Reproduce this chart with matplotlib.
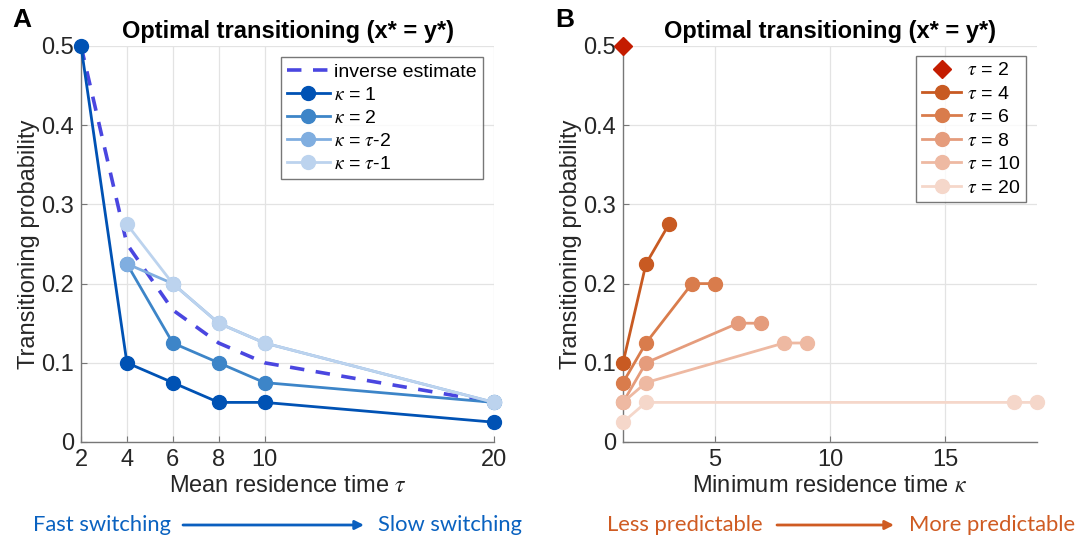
import matplotlib
matplotlib.use("Agg")
import matplotlib.pyplot as plt
from matplotlib.lines import Line2D

plt.rcParams['font.family'] = ['Liberation Sans', 'DejaVu Sans']
plt.rcParams['mathtext.fontset'] = 'stix'

# ---------------- Data ----------------
tau = [2, 4, 6, 8, 10, 20]
inverse_estimate = [0.5, 0.25, 0.1667, 0.125, 0.1, 0.05]
kappa1 = [0.5, 0.1, 0.075, 0.05, 0.05, 0.025]
tau_k2 = [4, 6, 8, 10, 20]
kappa2 = [0.225, 0.125, 0.1, 0.075, 0.05]
kappa_tm2 = [0.225, 0.2, 0.15, 0.125, 0.05]
kappa_tm1 = [0.275, 0.2, 0.15, 0.125, 0.05]

# Panel B: per tau, kappa values and probabilities
b_tau2_k = [1]
b_tau2_p = [0.5]
b_tau4_k = [1, 2, 3]
b_tau4_p = [0.1, 0.225, 0.275]
b_tau6_k = [1, 2, 4, 5]
b_tau6_p = [0.075, 0.125, 0.2, 0.2]
b_tau8_k = [1, 2, 6, 7]
b_tau8_p = [0.05, 0.1, 0.15, 0.15]
b_tau10_k = [1, 2, 8, 9]
b_tau10_p = [0.05, 0.075, 0.125, 0.125]
b_tau20_k = [1, 2, 18, 19]
b_tau20_p = [0.025, 0.05, 0.05, 0.05]

blue_cols = ['#0052b4', '#3d85c8', '#80aee0', '#bcd3ee']
inv_col = '#4a46e0'
orange_cols = ['#c41c00', '#c85a22', '#d97c4c', '#e59c7c', '#eeb9a2', '#f5d7ca']

W, H = 1078, 538
fig = plt.figure(figsize=(W / 100, H / 100), dpi=100)

axA = fig.add_axes([81 / W, (H - 442) / H, 413 / W, 396 / H])
axB = fig.add_axes([623 / W, (H - 442) / H, 414 / W, 396 / H])

TICK_FS = 17
LAB_FS = 17


def style(ax):
    for s in ['top', 'right']:
        ax.spines[s].set_visible(False)
    for s in ['left', 'bottom']:
        ax.spines[s].set_color('#777777')
        ax.spines[s].set_linewidth(1.0)
    ax.grid(True, color='#e3e3e3', linewidth=0.9)
    ax.set_axisbelow(True)
    ax.tick_params(direction='in', length=4, color='#777777', labelsize=TICK_FS,
                   labelcolor='#262626', pad=5)
    ax.set_ylim(0, 0.5)
    ax.set_yticks([0, 0.1, 0.2, 0.3, 0.4, 0.5])
    ax.set_yticklabels(['0', '0.1', '0.2', '0.3', '0.4', '0.5'])
    ax.set_ylabel('Transitioning probability', fontsize=LAB_FS, color='#262626', labelpad=1)


lw = 2.0
ms = 10

# ---------------- Panel A ----------------
style(axA)
axA.plot(tau, inverse_estimate, '--', color=inv_col, lw=2.6, dashes=(4, 3.2),
         label='inverse estimate', zorder=2)
axA.plot(tau, kappa1, '-o', color=blue_cols[0], lw=lw, ms=ms,
         label=r'$\kappa$ = 1', zorder=3)
axA.plot(tau_k2, kappa2, '-o', color=blue_cols[1], lw=lw, ms=ms,
         label=r'$\kappa$ = 2', zorder=4)
axA.plot(tau_k2, kappa_tm2, '-o', color=blue_cols[2], lw=lw, ms=ms,
         label=r'$\kappa$ = $\tau$-2', zorder=5)
axA.plot(tau_k2, kappa_tm1, '-o', color=blue_cols[3], lw=lw, ms=ms,
         label=r'$\kappa$ = $\tau$-1', zorder=6)
axA.set_xlim(2, 20)
axA.set_xticks(tau)
axA.set_xlabel(r'Mean residence time $\tau$', fontsize=LAB_FS, color='#262626', labelpad=3)
axA.set_title('Optimal transitioning (x* = y*)', fontsize=17, fontweight='bold', pad=6)
for c in axA.get_children():
    if isinstance(c, Line2D):
        c.set_clip_on(False)

legA = axA.legend(loc='upper right',
                  bbox_to_anchor=(0.973, 0.972), fontsize=14, frameon=True, fancybox=False,
                  edgecolor='#555555', handlelength=2.2, handletextpad=0.25,
                  labelspacing=0.28, borderpad=0.3, borderaxespad=0.0)
legA.get_frame().set_linewidth(1.0)
legA.set_zorder(20)

# ---------------- Panel B ----------------
style(axB)
b_series = [(b_tau4_k, b_tau4_p, r'$\tau$ = 4'), (b_tau6_k, b_tau6_p, r'$\tau$ = 6'),
            (b_tau8_k, b_tau8_p, r'$\tau$ = 8'), (b_tau10_k, b_tau10_p, r'$\tau$ = 10'),
            (b_tau20_k, b_tau20_p, r'$\tau$ = 20')]
hb = []
hb.append(axB.plot(b_tau2_k, b_tau2_p, 'D', color=orange_cols[0], ms=9, clip_on=False,
                   label=r'$\tau$ = 2', zorder=3)[0])
for i, (k, p, lab) in enumerate(b_series):
    hb.append(axB.plot(k, p, '-o', color=orange_cols[i + 1], lw=lw, ms=ms, clip_on=False,
                       label=lab, zorder=4 + i)[0])
axB.set_xlim(1, 19)
axB.set_xticks([5, 10, 15])
axB.set_xlabel(r'Minimum residence time $\kappa$', fontsize=LAB_FS, color='#262626', labelpad=3)
axB.set_title('Optimal transitioning (x* = y*)', fontsize=17, fontweight='bold', pad=6)
legB = axB.legend(handles=hb, loc='upper right', bbox_to_anchor=(0.973, 0.975),
                  fontsize=14, frameon=True, fancybox=False, edgecolor='#555555',
                  handlelength=2.0, handletextpad=0.3, labelspacing=0.3,
                  borderpad=0.3, borderaxespad=0.0)
legB.get_frame().set_linewidth(1.0)
legB.set_zorder(20)

# Panel letters
fig.text(12 / W, 1 - 20 / H, 'A', fontsize=19, fontweight='bold', va='center', ha='left')
fig.text(555 / W, 1 - 20 / H, 'B', fontsize=19, fontweight='bold', va='center', ha='left')

# Bottom annotations
ycap = 1 - 525 / H
blue_t = '#0a62c0'
orng_t = '#cf5b22'
fnt = ['Lato', 'DejaVu Sans']
AFS = 15.8
fig.text(33 / W, ycap, 'Fast switching', color=blue_t, fontsize=AFS, family=fnt,
         va='center', ha='left')
fig.text(522 / W, ycap, 'Slow switching', color=blue_t, fontsize=AFS, family=fnt,
         va='center', ha='right')
fig.text(607 / W, ycap, 'Less predictable', color=orng_t, fontsize=AFS, family=fnt,
         va='center', ha='left')
fig.text(1075 / W, ycap, 'More predictable', color=orng_t, fontsize=AFS, family=fnt,
         va='center', ha='right')
fig.add_artist(matplotlib.patches.FancyArrowPatch((183 / W, ycap), (364 / W, ycap),
               transform=fig.transFigure, arrowstyle='-|>', mutation_scale=13,
               color='#0a5fbf', lw=2, shrinkA=0, shrinkB=0))
fig.add_artist(matplotlib.patches.FancyArrowPatch((777 / W, ycap), (894 / W, ycap),
               transform=fig.transFigure, arrowstyle='-|>', mutation_scale=13,
               color='#cf5b22', lw=2, shrinkA=0, shrinkB=0))

fig.savefig('out.png', dpi=100)
